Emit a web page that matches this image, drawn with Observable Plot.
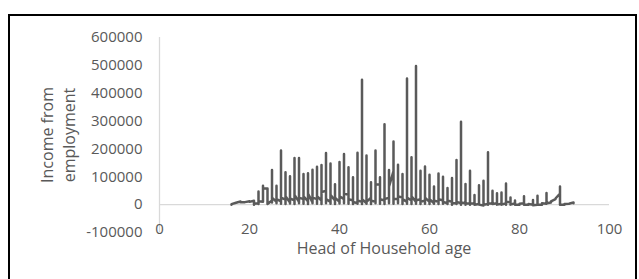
<!DOCTYPE html>
<html><head><meta charset="utf-8">
<script src="https://cdn.jsdelivr.net/npm/d3@7"></script>
<script src="https://cdn.jsdelivr.net/npm/@observablehq/plot@0.6"></script>
<style>
body{margin:0;background:#fff;}
#wrap{position:relative;width:639px;height:279px;overflow:hidden;background:#fff;}
#frame{position:absolute;left:8px;top:14px;width:629px;height:300px;border:2px solid #000;box-sizing:border-box;pointer-events:none;}
</style></head><body><div id="wrap"><div id="chart"></div><div id="frame"></div></div>
<script>
const ages = [16,17,18,19,20,21,22,23,24,25,26,27,28,29,30,31,32,33,34,35,36,37,38,39,40,41,42,43,44,45,46,47,48,49,50,51,52,53,54,55,56,57,58,59,60,61,62,63,64,65,66,67,68,69,70,71,72,73,74,75,76,77,78,79,80,81,82,83,84,85,86,87,88,89,90,91,92];
const incomeByAge = [
  [0, 2000],
  [7000],
  [11000, 9000],
  [9000],
  [12000, 10000],
  [14000, 0, 3000],
  [5000, 47000, 2000, 12000],
  [10000, 68000, 58000],
  [58000, 5000, 20000, 2000],
  [15000, 124000, 8000, 25000],
  [10000, 68000, 5000, 20000],
  [12000, 194000, 3000, 25000],
  [18000, 116000, 2000, 30000],
  [8000, 102000, 4000, 22000],
  [15000, 167000, 2000, 35000],
  [10000, 167000, 5000, 25000],
  [20000, 110000, 3000, 30000],
  [12000, 113000, 2000, 40000],
  [8000, 125000, 5000, 25000],
  [20000, 136000, 3000, 30000],
  [15000, 142000, 2000, 45000],
  [50000, 185000, 5000, 20000],
  [10000, 148000, 3000, 35000],
  [15000, 73000, 2000, 25000],
  [10000, 153000, 4000, 30000],
  [20000, 182000, 5000, 40000],
  [35000, 134000, 3000, 20000],
  [15000, 98000, 2000, 10000],
  [5000, 186000, 3000, 15000],
  [10000, 448000, 2000, 20000],
  [5000, 176000, 3000, 10000],
  [25000, 80000, 2000, 15000],
  [10000, 194000, 5000, 72000],
  [72000, 98000, 3000, 20000],
  [15000, 289000, 2000, 20000],
  [25000, 124000, 5000, 65000],
  [120000, 227000, 3000, 20000],
  [20000, 143000, 5000, 30000],
  [25000, 110000, 2000, 20000],
  [10000, 453000, 3000, 25000],
  [15000, 170000, 2000, 30000],
  [10000, 498000, 3000, 15000],
  [20000, 122000, 2000, 10000],
  [15000, 137000, 3000, 25000],
  [10000, 107000, 2000, 20000],
  [5000, 65000, 3000, 15000],
  [10000, 112000, 2000, 20000],
  [15000, 100000, 3000, 10000],
  [5000, 60000, 2000, 15000],
  [10000, 96000, 0, 5000],
  [5000, 160000, 2000, 10000],
  [5000, 298000, 0, 8000],
  [5000, 74000, 0, 3000],
  [5000, 122000, 0, 5000],
  [3000, 35000, 0],
  [2000, 70000, 0],
  [-3000, 86000, 0],
  [2000, 188000, 0, 5000],
  [3000, 50000, 2000],
  [5000, 41000, 0],
  [3000, 44000, 0],
  [5000, 76000, 0, 10000],
  [8000, 26000, 0],
  [5000, 15000, 0],
  [0, 3000],
  [5000, 30000, 0],
  [0, 2000],
  [0, 17000, -2000],
  [0, 32000, 0],
  [0, 5000],
  [3000, 42000, 5000],
  [8000, 12000],
  [20000, 22000],
  [40000, 65000, 0],
  [0, 2000],
  [3000],
  [8000, 5000]
];
const yTicks = [-100000, 0, 100000, 200000, 300000, 400000, 500000, 600000];
const xTicks = [0, 20, 40, 60, 80, 100];
const xTitle = "Head of Household age";
const yTitleLines = ["Income from", "employment"];

const rows = ages.flatMap((a, i) => incomeByAge[i].map(v => ({age: a, income: v})));

const chart = Plot.plot({
  width: 639, height: 279,
  marginLeft: 159, marginRight: 30, marginTop: 37, marginBottom: 47,
  x: {domain: [0, 100]},
  y: {domain: [-100000, 600000]},
  style: {fontFamily: "'Open Sans'", fontSize: "15px", color: "#595959", background: "transparent"},
  marks: [
    Plot.ruleY([0], {stroke: "#d9d9d9", strokeWidth: 1.3}),
    Plot.ruleX([0], {stroke: "#d9d9d9", strokeWidth: 1.3}),
    Plot.axisY({ticks: yTicks, tickSize: 0, tickPadding: 17, tickFormat: d => String(d), label: null}),
    Plot.axisX({ticks: xTicks, tickSize: 0, tickPadding: 0, dy: -9, tickFormat: d => String(d), label: null}),
    Plot.line(rows, {x: "age", y: "income", stroke: "#5a5a5a", strokeWidth: 2.5})
  ]
});
document.getElementById("chart").appendChild(chart);

const svg = d3.select(chart);
svg.append("text").attr("x", 384).attr("y", 254).attr("text-anchor", "middle")
  .attr("font-family", "'Open Sans'").attr("font-size", 16).attr("fill", "#595959").text(xTitle);
const yt = svg.append("text").attr("transform", "translate(0,135) rotate(-90)")
  .attr("text-anchor", "middle").attr("font-family", "'Open Sans'").attr("font-size", 16).attr("fill", "#595959");
yTitleLines.forEach((t, i) => yt.append("tspan").attr("x", 0).attr("y", 53 + i * 22).text(t));
</script>
</body></html>
